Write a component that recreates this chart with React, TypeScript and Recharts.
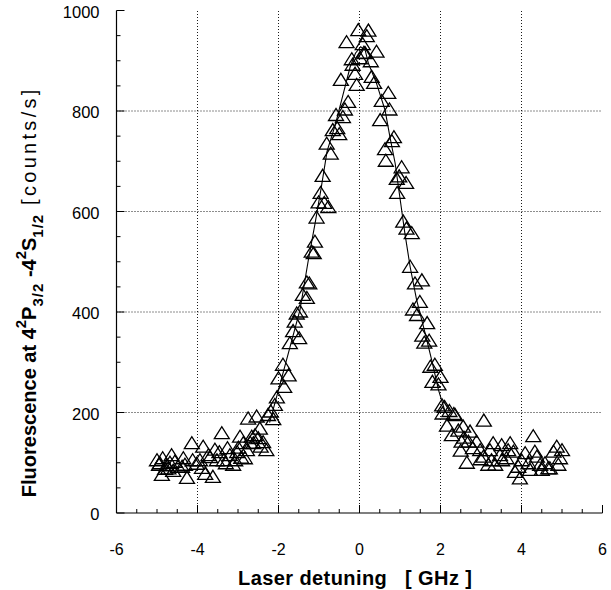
import React from 'react';
import { ComposedChart, XAxis, YAxis, Scatter, Line, ReferenceLine } from 'recharts';

// ---- data (detuning [GHz], fluorescence [counts/s]) ----
const leftWingPoints: [number, number][] = [
  [-5.0, 105], [-4.95, 96], [-4.93, 99], [-4.88, 76], [-4.86, 109], [-4.8, 88], [-4.76, 95], [-4.72, 89],
  [-4.68, 100], [-4.64, 115], [-4.6, 84], [-4.56, 102], [-4.48, 92], [-4.38, 92], [-4.35, 109], [-4.31, 96],
  [-4.26, 70], [-4.14, 139], [-4.12, 105], [-4.02, 98], [-3.94, 105], [-3.89, 90], [-3.86, 132], [-3.81, 78],
  [-3.73, 115], [-3.69, 111], [-3.62, 72], [-3.57, 126], [-3.52, 105], [-3.46, 121], [-3.4, 159], [-3.35, 105],
  [-3.3, 99], [-3.26, 129], [-3.2, 115], [-3.12, 96], [-3.07, 105], [-3.02, 121], [-2.99, 130], [-2.95, 152],
  [-2.92, 110], [-2.87, 139], [-2.83, 109], [-2.78, 125], [-2.75, 188], [-2.7, 140], [-2.66, 152], [-2.62, 139],
  [-2.58, 155], [-2.54, 192], [-2.5, 149], [-2.46, 168], [-2.44, 132], [-2.38, 141], [-2.3, 125],
];
const leftFlankPoints: [number, number][] = [
  [-2.26, 195], [-2.19, 202], [-2.13, 187], [-2.09, 215], [-2.04, 230], [-2.0, 268], [-1.89, 295], [-1.86, 251],
  [-1.75, 274], [-1.72, 338], [-1.64, 362], [-1.6, 381], [-1.55, 397], [-1.49, 348], [-1.47, 401], [-1.4, 434],
  [-1.3, 428], [-1.3, 459], [-1.24, 457], [-1.18, 520], [-1.13, 517], [-1.1, 540], [-1.06, 588], [-1.01, 618],
  [-0.96, 637], [-0.91, 671], [-0.87, 617], [-0.81, 735], [-0.77, 609], [-0.71, 715], [-0.66, 762], [-0.58, 792],
  [-0.55, 766], [-0.5, 754], [-0.46, 862], [-0.41, 788], [-0.36, 803], [-0.32, 937], [-0.28, 818],
];
const peakPoints: [number, number][] = [
  [-0.19, 903], [-0.17, 892], [-0.11, 874], [-0.07, 852], [-0.03, 961], [0.01, 905], [0.08, 933], [0.11, 916],
  [0.14, 915], [0.18, 949], [0.22, 960], [0.28, 899], [0.3, 868], [0.36, 856], [0.42, 918],
];
const rightFlankPoints: [number, number][] = [
  [0.51, 782], [0.55, 820], [0.63, 724], [0.65, 701], [0.71, 836], [0.74, 803], [0.8, 740], [0.85, 748],
  [0.92, 665], [0.93, 637], [0.98, 670], [1.04, 688], [1.08, 580], [1.15, 657], [1.16, 566], [1.25, 490],
  [1.29, 557], [1.32, 405], [1.37, 457], [1.42, 394], [1.49, 420], [1.54, 463], [1.55, 353], [1.6, 339],
  [1.67, 378], [1.72, 343], [1.75, 291], [1.8, 261], [1.86, 295], [1.95, 256], [2.0, 271], [2.04, 214],
];
const rightWingPoints: [number, number][] = [
  [2.05, 198], [2.1, 211], [2.16, 174], [2.22, 203], [2.28, 155], [2.33, 197], [2.36, 195], [2.44, 164],
  [2.5, 124], [2.52, 142], [2.56, 172], [2.58, 150], [2.65, 100], [2.69, 142], [2.73, 162], [2.8, 129],
  [2.89, 142], [2.98, 125], [2.99, 107], [3.06, 112], [3.07, 184], [3.18, 96], [3.22, 125], [3.26, 105],
  [3.3, 139], [3.35, 96], [3.47, 115], [3.51, 135], [3.52, 105], [3.63, 109], [3.67, 125], [3.72, 139],
  [3.8, 122], [3.84, 82], [3.92, 92], [3.96, 69], [4.0, 105], [4.09, 119], [4.17, 99], [4.21, 86],
  [4.29, 153], [4.33, 122], [4.38, 112], [4.46, 96], [4.5, 86], [4.58, 99], [4.66, 89], [4.7, 89],
  [4.79, 122], [4.87, 132], [4.91, 96], [4.95, 109], [5.0, 125],
];
const fitLinePoints: [number, number][] = [
  [-2.22, 180], [-2.0, 245], [-1.67, 344], [-1.47, 404], [-1.26, 505], [-1.1, 575], [-0.95, 645], [-0.8, 720],
  [-0.6, 772], [-0.44, 822], [-0.23, 888], [-0.1, 915], [0.03, 928], [0.14, 921], [0.22, 895], [0.42, 855],
  [0.63, 802], [0.75, 749], [0.88, 696], [1.02, 615], [1.12, 557], [1.25, 490], [1.41, 424], [1.62, 358],
  [1.78, 305], [1.95, 245], [2.12, 200],
];

const xTicks = [-6, -5.5, -5, -4.5, -4, -3.5, -3, -2.5, -2, -1.5, -1, -0.5, 0, 0.5, 1, 1.5, 2, 2.5, 3, 3.5, 4, 4.5, 5, 5.5, 6];
const xLabelTicks = [-6, -4, -2, 0, 2, 4, 6];
const yTicks = [0, 50, 100, 150, 200, 250, 300, 350, 400, 450, 500, 550, 600, 650, 700, 750, 800, 850, 900, 950, 1000];
const yLabelTicks = [0, 200, 400, 600, 800, 1000];
const gridX = [-4, -2, 0, 2, 4];
const gridY = [200, 400, 600, 800];

const toRows = (pts: [number, number][]) => pts.map(([x, y]) => ({ x, y }));
const scatterData = toRows([
  ...leftWingPoints, ...leftFlankPoints, ...peakPoints, ...rightFlankPoints, ...rightWingPoints,
]);
const lineData = toRows(fitLinePoints);

const FONT = '"Liberation Sans", Arial, Helvetica, sans-serif';
const MAJOR = 8;
const MINOR = 4;

const BottomTick = (p: any) => {
  const v = p.payload.value;
  const major = xLabelTicks.includes(v);
  return (
    <g>
      <line x1={p.x} x2={p.x} y1={p.y} y2={p.y - (major ? MAJOR : MINOR)} stroke="#000" strokeWidth={1} />
      {major && (
        <text x={p.x} y={p.y + 42} textAnchor="middle" fontSize={16} fontFamily={FONT} fill="#000">
          {String(v)}
        </text>
      )}
    </g>
  );
};
const TopTick = (p: any) => {
  const major = xLabelTicks.includes(p.payload.value);
  return <line x1={p.x} x2={p.x} y1={p.y} y2={p.y + (major ? MAJOR : MINOR)} stroke="#000" strokeWidth={1} />;
};
const LeftTick = (p: any) => {
  const v = p.payload.value;
  const major = yLabelTicks.includes(v);
  return (
    <g>
      <line x1={p.x} x2={p.x + (major ? MAJOR : MINOR)} y1={p.y} y2={p.y} stroke="#000" strokeWidth={1} />
      {major && (
        <text x={p.x - 17} y={p.y + 7} textAnchor="end" fontSize={16.5} fontFamily={FONT} fill="#000">
          {String(v)}
        </text>
      )}
    </g>
  );
};
const RightTick = (p: any) => {
  const major = yLabelTicks.includes(p.payload.value);
  return <line x1={p.x} x2={p.x - (major ? MAJOR : MINOR)} y1={p.y} y2={p.y} stroke="#000" strokeWidth={1} />;
};

const Triangle = (p: any) => {
  const { cx, cy } = p;
  if (cx == null || cy == null) return null;
  return (
    <polygon
      points={`${cx - 7.5},${cy + 5.5} ${cx + 7.5},${cy + 5.5} ${cx},${cy - 6.5}`}
      fill="none"
      stroke="#000"
      strokeWidth={1.3}
      strokeLinejoin="miter"
    />
  );
};

const XLabel = (p: any) => {
  const vb = p.viewBox || { x: 116.5, y: 513, width: 486, height: 77 };
  return (
    <text
      x={vb.x + vb.width / 2 - 4.5}
      y={vb.y + 72}
      textAnchor="middle"
      fontSize={20}
      fontWeight="bold"
      fontFamily={FONT}
      fill="#000"
      textLength={234}
      lengthAdjust="spacing"
      style={{ whiteSpace: 'pre' }}
    >
      {'Laser detuning   [ GHz ]'}
    </text>
  );
};

const YLabel = (p: any) => {
  const vb = p.viewBox || { x: 0, y: 10.5, width: 116.5, height: 502.5 };
  const x = vb.x + 36;
  const y = vb.y + vb.height / 2 + 30;
  return (
    <text
      x={x}
      y={y}
      transform={`rotate(-90, ${x}, ${y})`}
      textAnchor="middle"
      fontSize={20}
      fontWeight="bold"
      fontFamily={FONT}
      fill="#000"
      style={{ whiteSpace: 'pre' }}
    >
      <tspan>{'Fluorescence at 4'}</tspan>
      <tspan fontSize={15} dy={-10}>2</tspan>
      <tspan dy={10}>P</tspan>
      <tspan fontSize={15} dy={7} letterSpacing={1}>3/2</tspan>
      <tspan dy={-7}>{' -4'}</tspan>
      <tspan fontSize={15} dy={-10}>2</tspan>
      <tspan dy={10}>S</tspan>
      <tspan fontSize={15} dy={7} letterSpacing={1}>1/2</tspan>
      <tspan dy={-7} fontWeight="normal" letterSpacing={3.3}>{' [counts/s]'}</tspan>
    </text>
  );
};

export default function App() {
  const axisLine = { stroke: '#000', strokeWidth: 1.2 };
  return (
    <div style={{ position: 'absolute', left: 0, top: 0, width: 611, height: 590, background: '#fff' }}>
      <ComposedChart
        width={611}
        height={590}
        margin={{ top: 10.5, right: 8.5, bottom: 0, left: 0 }}
        style={{ background: '#fff' }}
      >
        <XAxis
          xAxisId={0}
          dataKey="x"
          type="number"
          domain={[-6, 6]}
          ticks={xTicks}
          interval={0}
          allowDataOverflow
          height={77}
          tickSize={0}
          tickMargin={0}
          tickLine={false}
          axisLine={axisLine}
          tick={BottomTick}
          label={{ content: XLabel }}
        />
        <XAxis
          xAxisId="top"
          orientation="top"
          type="number"
          domain={[-6, 6]}
          ticks={xTicks}
          interval={0}
          allowDataOverflow
          height={0}
          tickSize={0}
          tickMargin={0}
          tickLine={false}
          axisLine={axisLine}
          tick={TopTick}
        />
        <YAxis
          yAxisId={0}
          type="number"
          domain={[0, 1000]}
          ticks={yTicks}
          interval={0}
          allowDataOverflow
          width={116.5}
          tickSize={0}
          tickMargin={0}
          tickLine={false}
          axisLine={axisLine}
          tick={LeftTick}
          label={{ content: YLabel }}
        />
        <YAxis
          yAxisId="right"
          orientation="right"
          type="number"
          domain={[0, 1000]}
          ticks={yTicks}
          interval={0}
          allowDataOverflow
          width={0}
          tickSize={0}
          tickMargin={0}
          tickLine={false}
          axisLine={axisLine}
          tick={RightTick}
        />
        {gridX.map((v) => (
          <ReferenceLine key={`gx${v}`} x={v} stroke="#000" strokeWidth={0.9} strokeDasharray="1 2" />
        ))}
        {gridY.map((v) => (
          <ReferenceLine key={`gy${v}`} y={v} stroke="#000" strokeWidth={0.9} strokeDasharray="1 2" />
        ))}
        <Line
          data={lineData}
          dataKey="y"
          type="linear"
          stroke="#000"
          strokeWidth={1.1}
          dot={false}
          activeDot={false}
          isAnimationActive={false}
        />
        <Scatter data={scatterData} dataKey="y" shape={Triangle} isAnimationActive={false} />
      </ComposedChart>
    </div>
  );
}
